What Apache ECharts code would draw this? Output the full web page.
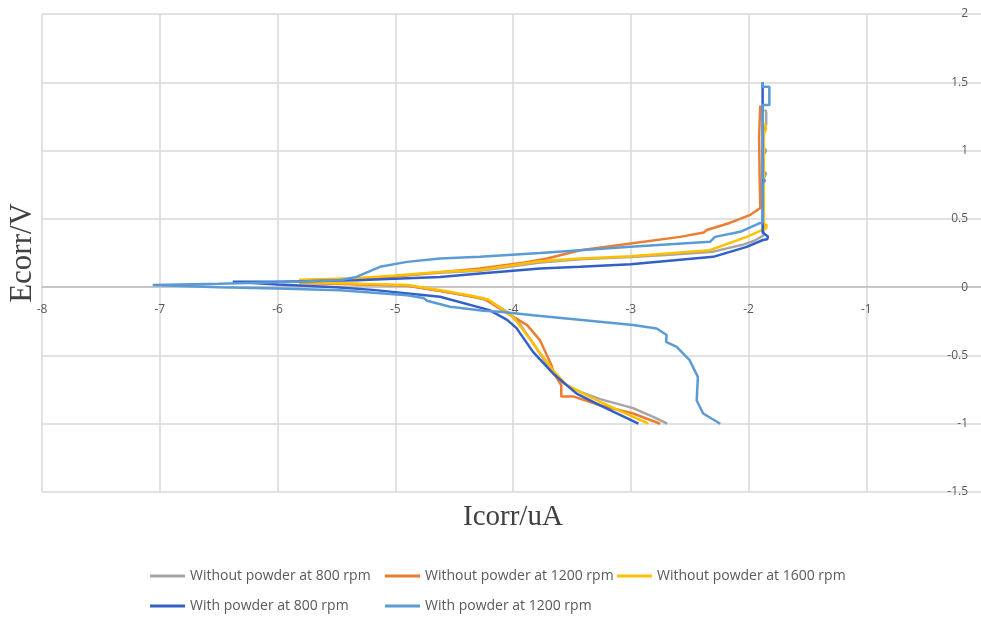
<!DOCTYPE html>
<html>
<head>
<meta charset="utf-8">
<script src="https://cdn.jsdelivr.net/npm/echarts@6/dist/echarts.min.js"></script>
<style>html,body{margin:0;padding:0;background:#fff}#c{width:981px;height:617px}</style>
</head>
<body>
<div id="c"></div>
<script>
// ---- data (Icorr, Ecorr) pairs ----
const seriesNames = [
  'Without powder at 800 rpm',
  'Without powder at 1200 rpm',
  'Without powder at 1600 rpm',
  'With powder at 800 rpm',
  'With powder at 1200 rpm'
];
const xTicks = [-8, -7, -6, -5, -4, -3, -2, -1, 0];
const yTicks = [-1.5, -1, -0.5, 0, 0.5, 1, 1.5, 2];

const without800 = [
  [-1.86,1.30],[-1.85,1.28],[-1.85,1.19],[-1.87,1.16],[-1.87,1.02],[-1.85,1.00],[-1.87,0.97],
  [-1.87,0.85],[-1.85,0.83],[-1.87,0.80],[-1.87,0.38],[-1.95,0.34],[-2.05,0.31],[-2.3,0.26],
  [-2.7,0.235],[-3.0,0.22],[-3.43,0.205],[-3.77,0.18],[-4.28,0.12],[-4.62,0.105],[-5.0,0.08],
  [-5.33,0.06],[-5.6,0.05],[-5.6,0.03],[-5.2,0.02],[-4.9,0.01],[-4.6,-0.03],[-4.34,-0.07],
  [-4.2,-0.1],[-4.05,-0.18],[-3.95,-0.26],[-3.83,-0.41],[-3.7,-0.58],[-3.58,-0.70],
  [-3.45,-0.76],[-3.26,-0.82],[-2.98,-0.886],[-2.81,-0.95],[-2.69,-1.0]
];
const without1200 = [
  [-1.90,1.33],[-1.91,1.10],[-1.905,0.80],[-1.90,0.58],[-1.99,0.527],[-2.16,0.47],[-2.355,0.418],
  [-2.38,0.40],[-2.58,0.368],[-3.0,0.32],[-3.43,0.27],[-3.71,0.21],[-3.9,0.18],[-4.28,0.137],
  [-4.62,0.11],[-5.0,0.08],[-5.33,0.06],[-5.81,0.05],[-5.81,0.03],[-5.3,0.02],[-4.9,0.012],
  [-4.6,-0.03],[-4.34,-0.07],[-4.25,-0.083],[-4.05,-0.19],[-3.88,-0.278],[-3.77,-0.39],
  [-3.70,-0.52],[-3.67,-0.58],[-3.66,-0.62],[-3.59,-0.72],[-3.59,-0.80],[-3.49,-0.80],
  [-3.26,-0.865],[-2.98,-0.925],[-2.75,-1.0]
];
const without1600 = [
  [-1.865,1.20],[-1.85,1.16],[-1.87,1.12],[-1.87,0.46],[-1.845,0.455],[-1.85,0.43],[-1.88,0.42],
  [-2.015,0.368],[-2.33,0.27],[-3.0,0.227],[-3.43,0.21],[-3.77,0.19],[-4.28,0.125],[-4.62,0.11],
  [-5.0,0.085],[-5.33,0.065],[-5.81,0.055],[-5.81,0.035],[-5.3,0.025],[-4.9,0.015],[-4.6,-0.025],
  [-4.34,-0.065],[-4.21,-0.09],[-4.0,-0.217],[-3.83,-0.41],[-3.66,-0.61],[-3.545,-0.718],
  [-3.26,-0.84],[-2.98,-0.95],[-2.85,-1.0]
];
const with800 = [
  [-1.88,1.50],[-1.88,0.40],[-1.835,0.37],[-1.84,0.35],[-1.877,0.345],[-2.015,0.295],[-2.30,0.222],
  [-3.0,0.168],[-3.43,0.149],[-3.77,0.137],[-4.28,0.10],[-4.62,0.075],[-5.33,0.05],[-6.0,0.04],
  [-6.38,0.04],[-6.38,0.03],[-6.0,0.02],[-5.5,0.0],[-5.19,-0.02],[-4.62,-0.07],[-4.20,-0.168],
  [-4.05,-0.24],[-3.97,-0.30],[-3.83,-0.474],[-3.66,-0.632],[-3.46,-0.78],[-3.26,-0.865],
  [-2.935,-1.0]
];
const with1200 = [
  [-1.88,1.50],[-1.88,1.467],[-1.823,1.467],[-1.823,1.333],[-1.88,1.333],[-1.88,0.80],[-1.86,0.78],
  [-1.88,0.76],[-1.88,0.47],[-1.90,0.47],[-2.07,0.405],[-2.285,0.368],[-2.327,0.332],[-3.0,0.295],
  [-3.43,0.27],[-3.77,0.25],[-4.28,0.222],[-4.62,0.21],[-4.90,0.185],[-5.13,0.149],[-5.33,0.075],
  [-5.47,0.05],[-6.0,0.035],[-6.5,0.025],[-7.06,0.015],[-7.06,0.005],[-6.5,0.0],[-6.0,-0.01],
  [-5.47,-0.022],[-4.90,-0.059],[-4.76,-0.08],[-4.73,-0.10],[-4.535,-0.144],[-4.25,-0.173],
  [-4.11,-0.18],[-3.83,-0.205],[-2.98,-0.278],[-2.78,-0.303],[-2.695,-0.35],[-2.70,-0.40],
  [-2.61,-0.437],[-2.50,-0.535],[-2.43,-0.657],[-2.44,-0.83],[-2.385,-0.925],[-2.24,-1.0]
];
const seriesData = [without800, without1200, without1600, with800, with1200];
const colors = ['#A5A5A5', '#ED7D31', '#FFC000', '#3260C8', '#5B9BD5'];

// ---- chart ----
const chart = echarts.init(document.getElementById('c'), null, {renderer: 'canvas'});
const gridTop = 14, gridHeight = 478;
// pixel offset that puts the x axis on E = 0 (Excel style crossing)
const yMin = yTicks[0], yMax = yTicks[yTicks.length - 1];
const xAxisOffset = -gridHeight * (0 - yMin) / (yMax - yMin);

const legendPos = [[150, 569], [385, 569], [617, 569], [150, 599], [385, 599]];
const legends = seriesNames.map((n, i) => ({
  data: [n], left: legendPos[i][0], top: legendPos[i][1], padding: 0,
  icon: 'rect', itemWidth: 35, itemHeight: 3,
  textStyle: {fontFamily: 'Open Sans', fontSize: 14, color: '#595959'},
  selectedMode: false
}));
chart.setOption({
  animation: false,
  color: colors,
  grid: {left: 42, top: gridTop, width: 942, height: gridHeight, outerBoundsMode: 'none', containLabel: false},
  legend: legends,
  xAxis: {
    type: 'value', min: xTicks[0], max: xTicks[xTicks.length - 1], interval: 1,
    position: 'bottom', offset: xAxisOffset,
    axisLine: {show: true, onZero: false, lineStyle: {color: '#bfbfbf', width: 1.5}},
    axisTick: {show: false},
    axisLabel: {color: '#595959', fontFamily: 'Open Sans', fontSize: 12, margin: 16},
    splitLine: {show: true, lineStyle: {color: '#d9d9d9', width: 1.5}}
  },
  yAxis: {
    type: 'value', min: yMin, max: yMax, interval: 0.5,
    position: 'right',
    axisLine: {show: false, onZero: false},
    axisTick: {show: false},
    axisLabel: {inside: true, color: '#595959', fontFamily: 'Open Sans', fontSize: 12, margin: 16},
    splitLine: {show: true, lineStyle: {color: '#d9d9d9', width: 1.5}}
  },
  graphic: [
    {type: 'text', left: 7, top: 203, rotation: Math.PI / 2,
     style: {text: 'Ecorr/V', font: '31px "Liberation Serif"', fill: '#404040'}},
    {type: 'text', left: 463, top: 503,
     style: {text: 'Icorr/uA', font: '29px "Liberation Serif"', fill: '#404040'}}
  ],
  series: seriesData.map((d, i) => ({
    name: seriesNames[i], type: 'line', data: d, showSymbol: false, symbol: 'none',
    lineStyle: {width: 2.5, color: colors[i]}, itemStyle: {color: colors[i]}
  }))
});
</script>
</body>
</html>
